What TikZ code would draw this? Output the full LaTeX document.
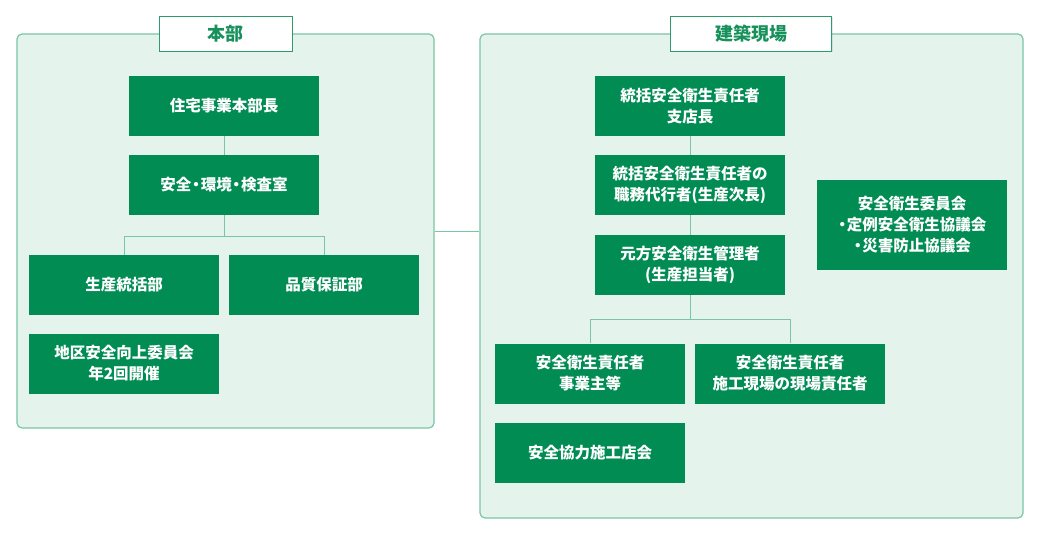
\documentclass[tikz,border=0pt]{standalone}
\usepackage{fontspec}
\setmainfont{Noto Sans CJK JP}
\usetikzlibrary{shadows}
\definecolor{boxgreen}{HTML}{008C53}
\definecolor{panelfill}{HTML}{E5F3ED}
\definecolor{panelline}{HTML}{7AC5A3}
\definecolor{titleline}{HTML}{2F9A6B}
\definecolor{titletext}{HTML}{16915B}
\newcommand{\nakadot}{\kern-0.2em・\kern-0.2em}
\begin{document}
\begin{tikzpicture}[x=1pt,y=-1pt,
  panel/.style={draw=panelline,line width=1.2pt,fill=panelfill,rounded corners=5pt,inner sep=0pt},
  title/.style={draw=titleline,line width=1pt,fill=white,minimum width=#1,minimum height=35pt,
    inner sep=0pt,text=titletext,font=\fontsize{18pt}{20pt}\selectfont\bfseries,
    drop shadow={opacity=0.18,shadow xshift=1pt,shadow yshift=-1pt}},
  orgbox/.style={fill=boxgreen,minimum width=190pt,minimum height=60pt,inner sep=0pt,
    text=white,align=center,font=\fontsize{15.5pt}{21pt}\selectfont\bfseries},
  link/.style={draw=panelline,line width=1pt}]
\useasboundingbox (0,0) rectangle (1040,540);
\tikzstyle{every node}+=[inner sep=0pt]
% panels
\node [panel,minimum width=417pt,minimum height=394pt] (honbu) at (225.5,231) {};
\node [panel,minimum width=543pt,minimum height=484pt] (genba) at (751.5,276) {};
\node [title=133pt] (thonbu) at (225.5,34) {本部};
\node [title=161pt] (tgenba) at (751,34) {建築現場};
\draw [link] (honbu.east) -- (genba.west |- honbu.east);
% honbu
\node [orgbox] (jigyo) at (224,106) {住宅事業本部長};
\node [orgbox] (shitsu) at (224,185) {安全\nakadot 環境\nakadot 検査室};
\node [orgbox] (seisan) at (124,285) {生産統括部};
\node [orgbox] (hinshitsu) at (324,285) {品質保証部};
\node [orgbox] (chiku) at (124,363.5) {地区安全向上委員会\\年2回開催};
\draw [link] (jigyo) -- (shitsu);
\draw [link] (shitsu.south) -- ++(0,21) coordinate (j1);
\draw [link] (seisan.north) |- (j1) -| (hinshitsu.north);
% genba
\node [orgbox] (tokatsu) at (690,106) {統括安全衛生責任者\\支店長};
\node [orgbox] (dairi) at (690,185) {統括安全衛生責任者の\\職務代行者(生産次長)};
\node [orgbox] (motokata) at (690,265) {元方安全衛生管理者\\(生産担当者)};
\node [orgbox] (jigyonushi) at (590,373.5) {安全衛生責任者\\事業主等};
\node [orgbox] (genbasekinin) at (790,373.5) {安全衛生責任者\\施工現場の現場責任者};
\node [orgbox] (kyoryoku) at (590,453) {安全協力施工店会};
\node [orgbox,minimum height=90pt] (iinkai) at (912,225) {安全衛生委員会\\\nakadot 定例安全衛生協議会\\\nakadot 災害防止協議会};
\draw [link] (tokatsu) -- (dairi);
\draw [link] (dairi) -- (motokata);
\draw [link] (motokata.south) -- ++(0,24) coordinate (j2);
\draw [link] (jigyonushi.north) |- (j2) -| (genbasekinin.north);
\end{tikzpicture}
\end{document}
